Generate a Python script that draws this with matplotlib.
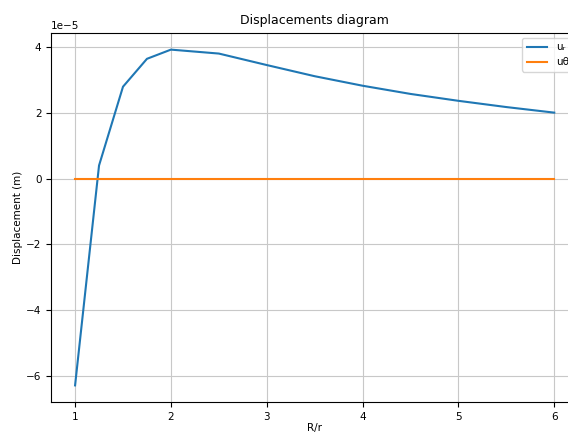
import matplotlib
matplotlib.use('Agg')
from matplotlib import pyplot as plt
import numpy as np

# R/r values and displacements (units of 1e-5 m)
ratio = [1.0, 1.25, 1.5, 1.75, 2.0, 2.5, 3.0, 3.5, 4.0, 4.5, 5.0, 5.5, 6.0]
u_r = [-6.3, 0.4, 2.8, 3.65, 3.93, 3.81, 3.46, 3.12, 2.83, 2.58, 2.37, 2.18, 2.01]
u_theta = [0.0] * len(ratio)

u_r = np.array(u_r) * 1e-5
u_theta = np.array(u_theta) * 1e-5

fs = 7.5
fig = plt.figure(figsize=(5.68, 4.32), dpi=100)
ax = fig.add_axes([0.09, 0.069, 0.928, 0.855])
ax.plot(ratio, u_r, label='uᵣ')
ax.plot(ratio, u_theta, label='uθ')
ax.set_title('Displacements diagram', fontsize=9)
ax.set_xlabel('R/r', fontsize=fs, labelpad=1)
ax.set_ylabel('Displacement (m)', fontsize=fs, labelpad=2)
ax.tick_params(labelsize=fs)
ax.yaxis.get_offset_text().set_fontsize(fs)
ax.grid(True, color='#c8c8c8')
ax.legend(loc='upper right', fontsize=fs)
fig.savefig('out.png', dpi=100)
